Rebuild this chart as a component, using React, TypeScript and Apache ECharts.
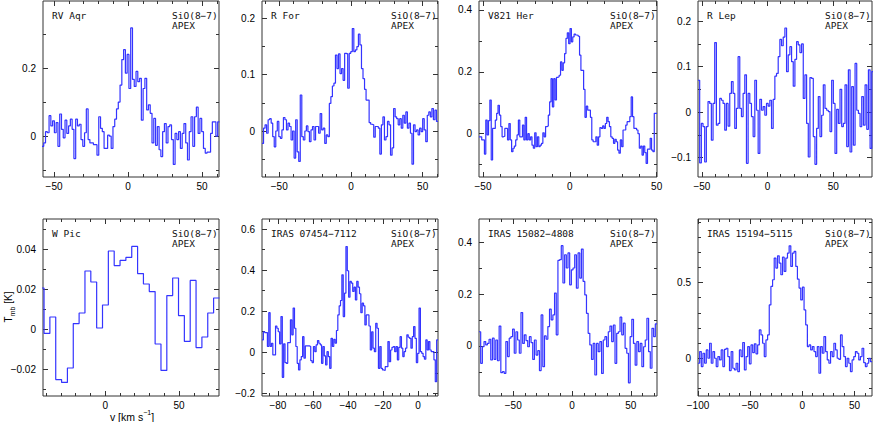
import React, { useEffect, useRef } from 'react';
import * as echarts from 'echarts';

// ---------------- data ----------------
const sourceNames = ['RV Aqr', 'R For', 'V821 Her', 'R Lep', 'W Pic', 'IRAS 07454−7112', 'IRAS 15082−4808', 'IRAS 15194−5115'];
const lineLabel = 'SiO(8−7)';
const telescopeLabel = 'APEX';

// main-beam temperature per channel [K]
const rvAqr = [
  -0.03, -0.02, 0.013, 0.01, 0.06, 0.03, 0.045, 0.01, 0.04, -0.03,
  0.065, 0.02, -0.005, 0.047, 0.008, 0.03, 0.05, 0.02, -0.066, 0.05,
  0.03, 0.035, -0.01, -0.03, 0.01, 0.08, -0.01, -0.02, -0.02, -0.025,
  -0.025, -0.056, 0.057, 0.023, 0.013, -0.036, -0.036, 0.003, 0.0, -0.036,
  0.028, 0.05, 0.08, 0.1, 0.15, 0.225, 0.254, 0.185, 0.24, 0.14,
  0.318, 0.167, 0.146, 0.19, 0.16, 0.17, 0.047, 0.14, 0.17, 0.077,
  0.092, 0.067, -0.02, 0.052, -0.027, 0.028, -0.04, -0.06, 0.013, 0.037,
  -0.02, 0.028, 0.033, -0.01, -0.083, 0.008, -0.01, 0.013, -0.036, 0.008,
  0.037, -0.02, -0.07, 0.013, 0.057, -0.03, 0.057, 0.085, 0.008, 0.052,
  0.013, -0.036, -0.05, -0.047, -0.047, 0.008, 0.042, 0.042, 0.0, 0.042,
];
const rFor = [
  -0.022, 0.005, 0.011, -0.004, 0.02, 0.022, 0.014, -0.01, -0.028, 0,
  0.017, -0.01, -0.013, 0.002, 0.024, 0.02, 0.002, 0.014, 0.008, -0.016,
  0, -0.048, 0.02, -0.037, -0.054, 0.064, -0.01, -0.016, 0, 0.009,
  -0.001, -0.019, 0.002, 0.008, -0.016, 0.008, 0.008, -0.004, 0.031, 0.002,
  0.005, -0.022, -0.007, -0.01, 0.049, 0.061, 0.08, 0.085, 0.135, 0.111,
  0.137, 0.102, 0.111, 0.09, 0.138, 0.137, 0.076, 0.138, 0.141, 0.182,
  0.141, 0.144, 0.15, 0.172, 0.153, 0.111, 0.093, 0.074, 0.055, 0.055,
  0.015, 0.012, 0.011, -0.011, 0.008, 0.008, 0.005, -0.041, 0.011, 0.025,
  -0.016, -0.01, 0.017, 0.011, -0.043, -0.03, 0.04, 0.025, 0.022, 0.011,
  0.022, 0.005, 0.028, 0.014, 0.034, 0.005, 0.014, -0.004, -0.059, 0.011,
  -0.001, 0.002, -0.007, 0.005, -0.001, 0.022, 0.002, -0.019, 0.028, 0.034,
  0.025, 0.04, 0.02, 0.037, 0.017,
];
const v821Her = [
  -0.01, -0.01, -0.02, -0.02, -0.066, 0.044, -0.004, 0.042, 0.109, -0.085,
  0.017, 0.017, 0.044, 0.066, 0.092, 0.06, 0.023, -0.01,
  -0.008, 0.017, 0.017, -0.02, 0.033, -0.02, -0.058, -0.047, -0.04, -0.02,
  -0.004, 0.044, -0.01, -0.01, 0.028, -0.02, 0.053, -0.02, 0, -0.02,
  -0.01, -0.037, -0.047, 0.003, -0.042, -0.01, -0.042, -0.037, -0.031,
  0.003, -0.01, 0.023, 0.025, 0.06, 0.103, 0.178, 0.087, 0.178, 0.109,
  0.182, 0.184, 0.189, 0.232, 0.205, 0.229, 0.259, 0.308, 0.326, 0.291,
  0.34, 0.297, 0.313, 0.322, 0.319, 0.318, 0.315, 0.254, 0.205, 0.205,
  0.143, 0.053, 0.089, 0.076, 0.076, 0.053, -0.02, -0.026, -0.026, -0.01,
  -0.037, -0.01, 0.02, 0.017, 0.025, 0.017, 0.033, 0.053, 0.039, 0.023,
  -0.01, -0.015, -0.031, -0.018, -0.026, -0.053, -0.063, -0.02, -0.042, 0.012,
  0.012, 0.028, 0.039, 0.039, 0.055, 0.119, 0.055, 0.017, 0.017, 0.012,
  0, -0.047, -0.04, -0.069, -0.04, -0.061, -0.096, -0.05, -0.05, -0.015,
  -0.053, -0.058, 0.066, 0.066,
];
const rLep = [
  0.07, -0.112, -0.025, -0.032, -0.11, -0.032, 0.023, 0.019, -0.062, 0.019,
  0.153, -0.029, -0.025, 0.03, 0.026, 0.019, -0.04, 0.019, -0.031, 0.041,
  0.067, 0.041, -0.036, 0.008, 0.122, 0.008, -0.01, 0.041, 0.082, -0.113,
  0.041, 0.019, -0.01, -0.054, 0.07, 0.004, -0.091, 0.028, 0.004, 0.012,
  -0.007, 0.019, 0.013, 0.026, -0.036, 0.028, 0.079, 0.085, 0.122, 0.16,
  0.146, 0.165, 0.185, 0.089, 0.126, 0.144, 0.111, 0.057, 0.116, 0.155,
  0.148, 0.131, 0.15, 0.03, 0.082, -0.025, -0.099, 0.076, 0.074, -0.054,
  -0.115, -0.036, 0.034, -0.054, -0.007, 0.06, 0.008, 0.004, 0.001, -0.043,
  0.07, 0.019, -0.091, 0.006, -0.025, 0.05, -0.032, -0.025, 0.06, -0.076,
  0.093, -0.088, 0.056, -0.073, 0.107, 0.004, -0.003, -0.032, 0.034, -0.029,
  0.06, -0.038, 0.093, -0.08, 0.089,
];
const wPic = [
  0.0205, -0.0022, 0.006, -0.0253, -0.0267, -0.0195, 0.0027, 0.008, 0.029, 0.0235,
  0.0005, 0.012, 0.039, 0.0317, 0.0343, 0.0358, 0.0413, 0.0277, 0.0225, 0.0187,
  -0.0075, -0.0207, 0.0167, 0.0255, 0.0067, -0.0062, 0.0243, -0.0093, -0.004, 0.008,
  0.0155,
];
const iras07454 = [
  0.06, 0.1, 0.096, 0.096, 0.028, 0.193, 0.028, 0.044, -0.013, -0.013,
  0.128, 0.117, 0.1, 0.041, 0.174, -0.122, 0.041, -0.05, -0.054, 0.047,
  0.047, 0.158, 0.085, 0.215, 0.117, 0.028, -0.054, -0.086, -0.037, -0.021,
  0.076, -0.029, 0.031, 0.031, 0.031, 0.028, -0.041, -0.05, 0.028, 0.003,
  0.036, 0.057, 0.044, 0.036, -0.054, 0.028, -0.018, -0.062, 0.003, -0.021,
  -0.078,
  0.068, 0.028, 0.063, 0.044, 0.106, 0.182, 0.226, 0.252, 0.377, 0.174,
  0.288, 0.515, 0.397, 0.268, 0.345, 0.337, 0.296, 0.317, 0.255, 0.345,
  0.317, 0.285, 0.193, 0.239, 0.226, 0.133, 0.182, 0.182, 0.128, 0.011,
  0.1, 0.02, 0.003, 0.141, 0.117, -0.078, 0.028, -0.078, -0.086, -0.089,
  -0.07, -0.07, 0.052, -0.046, 0.011, 0.024, 0.028, 0.003, 0.028, -0.037,
  0.024, 0.076, 0.02, -0.021, 0.003, 0.02, 0.085, 0.073, 0.068, 0.02,
  0.076, 0.125, 0.068, -0.05, -0.005, 0.215, 0.003, -0.005, -0.021, -0.034,
  0.06, 0.011, 0.052, 0.011, 0.003, 0.003, -0.037, -0.143, 0.06,
];
const iras15082 = [
  0.055, -0.067, -0.003, 0.017, 0.004, 0.01, 0.026, -0.054, 0.03, -0.052,
  0.023, -0.057, 0.077, -0.103, -0.099, -0.106, 0.017, -0.041, 0.03, 0.036,
  0.065, -0.028, 0.055, 0.023, -0.028, 0.129, 0.01, 0.043, 0.021, -0.003,
  0.036, 0.013, -0.052, 0.023, -0.035, -0.018, -0.095, 0.12, -0.08, 0.039,
  0.026, 0.075, 0.142, 0.101, 0.12, 0.204, 0.043, 0.33, 0.333, 0.387,
  0.243, 0.352, 0.301, 0.359, 0.236, 0.294, 0.301, 0.352, 0.223, 0.359,
  0.262, 0.374, 0.249, 0.197, 0.126, 0.049, 0.004, -0.052, 0.01, -0.112,
  0.01, -0.022, 0.017, -0.106, 0.023, 0.036, -0.003, 0.055, 0.077, 0.017,
  0.081, -0.067, 0.049, 0.055, 0.111, 0.043, 0.088, -0.009, -0.028, -0.142,
  0.036, 0.103, 0.01, -0.074, 0.017, -0.022, 0.01, -0.08, -0.003, 0.023,
  0.107, -0.022, -0.086, 0.068, 0.036, 0.085,
];
const iras15194 = [
  -0.033, 0.044, -0.055, 0.033, -0.033, 0.055, 0, 0.099, -0.033, 0.044,
  0, -0.055, 0.011, -0.011, 0.055, -0.055, 0.059, 0.066, 0.011, -0.081,
  0.044, -0.066, -0.077, -0.033, -0.088, 0.055, 0.011, 0.104, -0.077, 0.011,
  0.077, -0.037, 0.088, 0.037, 0.095, 0.029, 0.088, 0.187, 0.154, 0.099,
  0.011, 0.121, 0.154, 0.352, 0.474, 0.518, 0.661, 0.595, 0.676, 0.628,
  0.551, 0.667, 0.573, 0.661, 0.694, 0.742, 0.606, 0.694, 0.705, 0.606,
  0.522, 0.463, 0.385, 0.469, 0.319, 0.22, 0.077, 0.088, 0.055, 0.077,
  0.044, 0.011, 0.077, -0.099, 0.077, 0.033, 0.143, 0.044, -0.011, -0.033,
  0.044, 0.011, 0.099, 0.055, 0, -0.007, 0.154, 0.077, 0.011, -0.055,
  0, -0.033, -0.088, -0.011, 0.011, 0.044, 0.033, -0.011, 0.011, 0.066,
  -0.029, -0.055, -0.033, 0, -0.022,
];
const spectra = [rvAqr, rFor, v821Her, rLep, wPic, iras07454, iras15082, iras15194];

// velocity of the first and last channel edge [km/s]
const velStart = [-58.2, -62, -52.3, -53, -45.36, -89.1, -79.1, -100];
const velEnd = [61.8, 60.7, 50.2, 80.6, 77.4, 11.4, 72.3, 66.8];

// axis ranges
const xMin = [-57.5, -62, -52.3, -53, -42.1, -89.1, -79.1, -100];
const xMax = [61.5, 60.7, 50.2, 79.5, 77.1, 11.4, 72.3, 66.8];
const yMin = [-0.12, -0.0817, -0.14, -0.143, -0.0335, -0.213, -0.193, -0.249];
const yMax = [0.397, 0.231, 0.429, 0.2445, 0.055, 0.649, 0.49, 0.919];

// tick labels
const xMajorTicks = [
  [-50, 0, 50], [-50, 0, 50], [-50, 0, 50], [-50, 0, 50],
  [0, 50], [-80, -60, -40, -20, 0], [-50, 0, 50], [-100, -50, 0, 50],
];
const xMinorStep = [10, 10, 10, 10, 10, 5, 10, 10];
const yMajorTicks = [
  [0, 0.2], [0, 0.1, 0.2], [0, 0.2, 0.4], [-0.1, 0, 0.1, 0.2],
  [-0.02, 0, 0.02, 0.04], [-0.2, 0, 0.2, 0.4, 0.6], [0, 0.2, 0.4], [0, 0.5],
];
const yMinorStep = [0.1, 0.05, 0.1, 0.05, 0.01, 0.1, 0.1, 0.1];

// ---------------- layout / style ----------------
const colLeft = [43, 262, 479, 698];
const colWidth = [176, 176, 178, 174];
const rowTop = [1, 219];
const rowHeight = [176, 177];
const FRAME = '#333';
const LINE = '#3434ff';
const NUM_FONT = '"Liberation Sans", Arial, sans-serif';
const TXT_FONT = '"DejaVu Sans Mono", "Liberation Mono", monospace';

function minorTicks(min: number, max: number, step: number, majors: number[]) {
  const out: number[] = [];
  const k0 = Math.ceil(min / step - 1e-9);
  const k1 = Math.floor(max / step + 1e-9);
  for (let k = k0; k <= k1; k++) {
    const v = Math.round(k * step * 1e6) / 1e6;
    if (!majors.some((m) => Math.abs(m - v) < 1e-9)) out.push(v);
  }
  return out;
}

const fmt = (v: number) => {
  const r = Math.round(v * 1e6) / 1e6;
  return r < 0 ? '−' + String(Math.abs(r)) : String(r);
};

function buildOption() {
  const grid: any[] = [];
  const xAxis: any[] = [];
  const yAxis: any[] = [];
  const series: any[] = [];
  const graphic: any[] = [];
  const tickLine = { color: FRAME, width: 1 };

  for (let p = 0; p < 8; p++) {
    const col = p % 4;
    const row = Math.floor(p / 4);
    const left = colLeft[col];
    const top = rowTop[row];
    const width = colWidth[col];
    const height = rowHeight[row];
    grid.push({ left, top, width, height, show: true, borderColor: FRAME, borderWidth: 1, backgroundColor: 'transparent' });

    const xm = xMajorTicks[p];
    const xn = minorTicks(xMin[p], xMax[p], xMinorStep[p], xm);
    const ym = yMajorTicks[p];
    const yn = minorTicks(yMin[p], yMax[p], yMinorStep[p], ym);

    const xb = {
      type: 'value', gridIndex: p, min: xMin[p], max: xMax[p],
      axisLine: { show: false, onZero: false }, splitLine: { show: false },
    };
    const yb = {
      type: 'value', gridIndex: p, min: yMin[p], max: yMax[p],
      axisLine: { show: false, onZero: false }, splitLine: { show: false },
    };
    const lab = (vals: number[], margin: number) => ({
      show: true, customValues: vals, formatter: fmt, margin,
      fontSize: 10, color: '#000', fontFamily: NUM_FONT,
    });
    const tick = (vals: number[], len: number) => ({
      show: true, inside: true, length: len, customValues: vals, lineStyle: tickLine,
    });

    xAxis.push({ ...xb, position: 'bottom', axisTick: tick(xm, 5), axisLabel: lab(xm, 4) });
    xAxis.push({ ...xb, position: 'bottom', axisTick: tick(xn, 3), axisLabel: { show: false } });
    xAxis.push({ ...xb, position: 'top', axisTick: tick(xm, 5), axisLabel: { show: false } });
    xAxis.push({ ...xb, position: 'top', axisTick: tick(xn, 3), axisLabel: { show: false } });

    yAxis.push({ ...yb, position: 'left', axisTick: tick(ym, 5), axisLabel: lab(ym, 7) });
    yAxis.push({ ...yb, position: 'left', axisTick: tick(yn, 3), axisLabel: { show: false } });
    yAxis.push({ ...yb, position: 'right', axisTick: tick(ym, 5), axisLabel: { show: false } });
    yAxis.push({ ...yb, position: 'right', axisTick: tick(yn, 3), axisLabel: { show: false } });

    const vals = spectra[p];
    const n = vals.length;
    const dv = (velEnd[p] - velStart[p]) / n;
    const pts: number[][] = vals.map((t, i) => [velStart[p] + i * dv, t]);
    pts.push([velEnd[p], vals[n - 1]]);
    series.push({
      type: 'line', xAxisIndex: 4 * p, yAxisIndex: 4 * p, data: pts, step: 'end',
      symbol: 'none', showSymbol: false, clip: true, silent: true,
      lineStyle: { color: LINE, width: 1.2 },
    });

    const txt = (text: string, x: number, y: number) => ({
      type: 'text', x, y, silent: true,
      style: { text, fill: '#111', fontSize: 9.5, fontFamily: TXT_FONT, align: 'left', verticalAlign: 'middle' },
    });
    graphic.push(txt(sourceNames[p], left + 9, top + 14));
    graphic.push(txt(lineLabel, left + width - 47, top + 14));
    graphic.push(txt(telescopeLabel, left + width - 47, top + 24));
  }

  graphic.push({
    type: 'text', x: 8, y: 307, rotation: Math.PI / 2, silent: true,
    style: {
      text: '{t|T}{s|mb}{t| [K]}', align: 'center', verticalAlign: 'middle', fill: '#000',
      rich: {
        t: { fontSize: 10, fontFamily: NUM_FONT, lineHeight: 16, fill: '#000' },
        s: { fontSize: 7, fontFamily: NUM_FONT, verticalAlign: 'bottom', fill: '#000' },
      },
    },
  });
  graphic.push({
    type: 'text', x: 132, y: 417, silent: true,
    style: {
      text: '{t|v [km s}{p|−1}{t|]}', align: 'center', verticalAlign: 'middle', fill: '#000',
      rich: {
        t: { fontSize: 10.5, fontFamily: NUM_FONT, lineHeight: 16, fill: '#000' },
        p: { fontSize: 7, fontFamily: NUM_FONT, verticalAlign: 'top', fill: '#000' },
      },
    },
  });

  return { animation: false, backgroundColor: '#fff', grid, xAxis, yAxis, series, graphic };
}

export default function App() {
  const ref = useRef<HTMLDivElement>(null);
  useEffect(() => {
    if (!ref.current) return;
    const chart = echarts.init(ref.current, undefined, { renderer: 'svg' });
    chart.setOption(buildOption() as any);
    return () => chart.dispose();
  }, []);
  return <div ref={ref} style={{ position: 'fixed', left: 0, top: 0, width: 873, height: 422 }} />;
}
